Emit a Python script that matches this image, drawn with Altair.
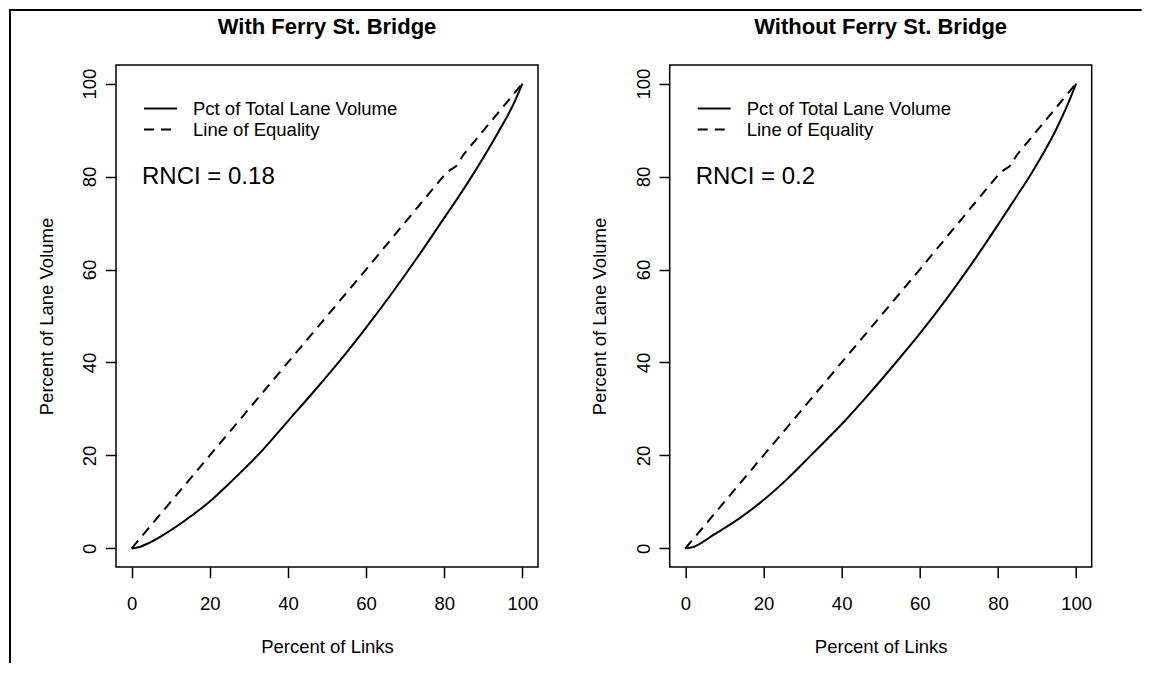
import altair as alt
import pandas as pd

FONT = "Liberation Sans"

panel_titles = ["With Ferry St. Bridge", "Without Ferry St. Bridge"]
rnci_labels = ["RNCI = 0.18", "RNCI = 0.2"]
series_names = ["Pct of Total Lane Volume", "Line of Equality"]
x_ticks = [0, 20, 40, 60, 80, 100]
y_ticks = [0, 20, 40, 60, 80, 100]

# Lorenz curve, with Ferry St. Bridge
with_x = [0, 2, 4.5, 7.3, 13.3, 20, 26, 32.8, 40, 47.3, 54.1, 60, 66, 72.8, 80, 83.4, 87.7, 93.6, 97.9, 100]
with_y = [0, 0.3, 1.2, 2.5, 5.8, 10.1, 14.8, 20.5, 27.4, 34.4, 41.2, 47.5, 54.2, 62.2, 71.1, 75.3, 80.9, 89.2, 95.9, 100]

# Lorenz curve, without Ferry St. Bridge
without_x = [0, 2, 4.5, 7.2, 13.2, 20, 25.9, 32.7, 40, 47.2, 54.0, 60, 65.8, 72.6, 80, 84.6, 88.8, 94.7, 98.1, 100]
without_y = [0, 0.3, 1.4, 2.9, 6.1, 10.4, 14.8, 20.5, 26.7, 33.4, 40.1, 46.2, 52.5, 60.4, 69.6, 75.5, 81.0, 89.8, 96.0, 100]

# Line of equality (with the small kink seen near 81)
eq_x = [0, 20, 40, 60, 80, 81.5, 83, 85, 100]
eq_y = [0, 20, 40, 60, 80.3, 81.4, 82.2, 84.8, 100]

W, H = 422, 502

xscale = alt.Scale(domain=[-4, 104], nice=False, zero=False)
yscale = alt.Scale(domain=[-4, 104], nice=False, zero=False)

xaxis = alt.Axis(values=x_ticks, title="Percent of Links", format="d",
                 labelBaseline="alphabetic", labelPadding=31.9,
                 titleX=W / 2, titleY=85, titleBaseline="alphabetic", titleAlign="center")
yaxis = alt.Axis(values=y_ticks, title="Percent of Lane Volume", format="d",
                 labelAngle=270, labelAlign="center", labelBaseline="alphabetic", labelPadding=9.4,
                 titleAngle=270, titleX=-64, titleY=H / 2, titleAlign="center",
                 titleBaseline="alphabetic")


def panel(i, xs, ys):
    lorenz = pd.DataFrame({"x": xs, "y": ys, "series": [series_names[0]] * len(xs)})
    equal = pd.DataFrame({"x": eq_x, "y": eq_y, "series": [series_names[1]] * len(eq_x)})
    solid = alt.Chart(lorenz).mark_line(color="black", strokeWidth=2, interpolate="monotone").encode(
        x=alt.X("x:Q", scale=xscale, axis=xaxis),
        y=alt.Y("y:Q", scale=yscale, axis=yaxis),
    )
    dashed = alt.Chart(equal).mark_line(color="black", strokeWidth=2, strokeDash=[10, 7]).encode(
        x=alt.X("x:Q", scale=xscale, axis=xaxis),
        y=alt.Y("y:Q", scale=yscale, axis=yaxis),
    )
    leg1 = pd.DataFrame({"label": [series_names[0]]})
    leg2 = pd.DataFrame({"label": [series_names[1]]})
    rule1 = alt.Chart(leg1).mark_rule(color="black", strokeWidth=2).encode(
        x=alt.value(28), x2=alt.value(61), y=alt.value(43.5))
    rule2 = alt.Chart(leg2).mark_rule(color="black", strokeWidth=2, strokeDash=[10, 7]).encode(
        x=alt.value(28), x2=alt.value(61), y=alt.value(64.5))
    txt1 = alt.Chart(leg1).mark_text(align="left", baseline="middle", font=FONT, fontSize=18.5,
                                     color="black").encode(
        x=alt.value(77), y=alt.value(43.5), text="label:N")
    txt2 = alt.Chart(leg2).mark_text(align="left", baseline="middle", font=FONT, fontSize=18.5,
                                     color="black").encode(
        x=alt.value(77), y=alt.value(64.5), text="label:N")
    rnci = alt.Chart(pd.DataFrame({"t": [rnci_labels[i]]})).mark_text(
        align="left", baseline="middle", font=FONT, fontSize=24, color="black").encode(
        x=alt.value(26), y=alt.value(111.5), text="t:N")
    title = alt.Chart(pd.DataFrame({"t": [panel_titles[i]]})).mark_text(
        align="center", baseline="alphabetic", font=FONT, fontSize=22, fontWeight="bold",
        color="black").encode(
        x=alt.value(W / 2), y=alt.value(-31.5), text="t:N")

    frame = pd.DataFrame({"k": [0]})
    layers = [solid, dashed, rule1, rule2, txt1, txt2, rnci, title]
    if i == 0:
        layers.append(alt.Chart(frame).mark_rect(color="black").encode(
            x=alt.value(-107), x2=alt.value(-105), y=alt.value(-56), y2=alt.value(598)))
        layers.append(alt.Chart(frame).mark_rect(color="black").encode(
            x=alt.value(-107), x2=alt.value(W + 6), y=alt.value(-56), y2=alt.value(-54)))
    else:
        layers.append(alt.Chart(frame).mark_rect(color="black").encode(
            x=alt.value(-127.7), x2=alt.value(472), y=alt.value(-56), y2=alt.value(-54)))
    return alt.layer(*layers).properties(width=W, height=H)


left = panel(0, with_x, with_y)
right = panel(1, without_x, without_y)

chart = alt.concat(left, right, columns=2, spacing=-4.3, align="each", bounds="full").properties(
    padding=0, background="white"
).configure_view(
    stroke="black", strokeWidth=1.5
).configure_axis(
    grid=False, domain=False, ticks=True, tickColor="black", tickWidth=1.5, tickSize=10.7,
    labelFont=FONT, labelFontSize=18.5, labelColor="black", labelFlush=False, labelOverlap=False,
    titleFont=FONT, titleFontSize=18.5, titleFontWeight="normal", titleColor="black",
)

chart.save("out.html", embed_options={"renderer": "svg", "actions": False})
